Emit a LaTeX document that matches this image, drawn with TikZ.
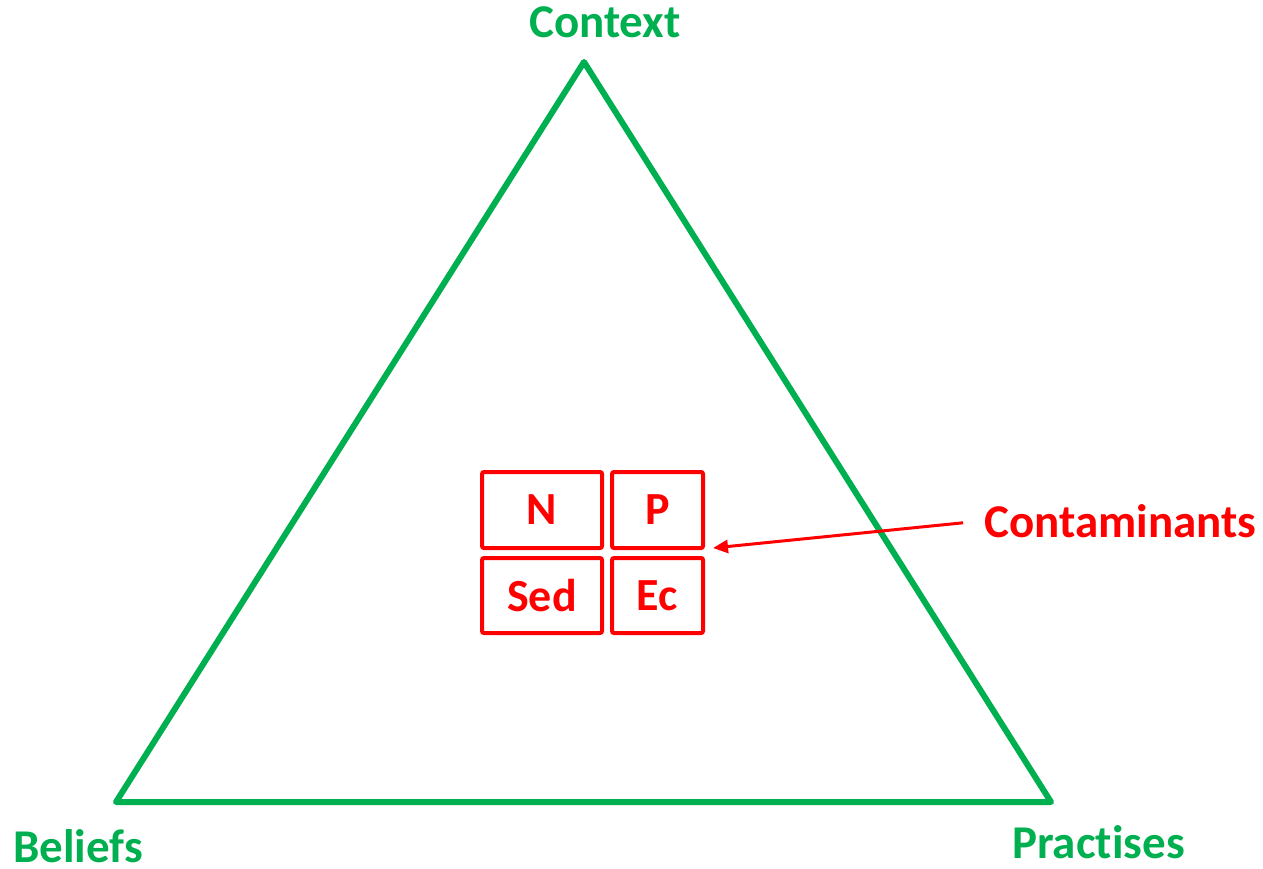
\documentclass[tikz,border=0pt]{standalone}
\usepackage{fontspec}
\setmainfont{Carlito}[Ligatures=NoCommon]
\usepackage{xcolor}
\usepackage{tikz}
\usetikzlibrary{arrows.meta}
\definecolor{trigreen}{HTML}{00B050}
\definecolor{conred}{HTML}{FF0000}

\begin{document}
\begin{tikzpicture}[x=1pt,y=-1pt,
	lbl/.style={inner sep=0pt,font=\fontsize{47}{50}\selectfont\bfseries},
	cbox/.style={draw=conred,line width=4pt,rounded corners=2pt,inner sep=0pt,text=conred,font=\fontsize{46}{50}\selectfont\bfseries}]
	\useasboundingbox (0,0) rectangle (1263,869);
	
	\coordinate (top) at (584,62);
	\coordinate (left) at (116,802);
	\coordinate (right) at (1051,802);
	\draw[trigreen,line width=6pt,line join=round] (top) -- (right) -- (left) -- cycle;
	
	\node[lbl,text=trigreen,anchor=base] (context) at (605,38) {Context};
	\node[lbl,text=trigreen,anchor=base west] (beliefs) at (13,862) {Beliefs};
	\node[lbl,text=trigreen,anchor=base west] (practises) at (1012,858) {Practises};
	
	\node[cbox,minimum width=120pt,minimum height=76pt] (N) at (542,510) {N};
	\node[cbox,minimum width=91pt,minimum height=76pt] (P) at (657.5,510) {P};
	\node[cbox,minimum width=120pt,minimum height=75pt] (Sed) at (542,595.5) {Sed};
	\node[cbox,minimum width=91pt,minimum height=75pt] (Ec) at (657.5,595.5) {Ec};
	
	\node[lbl,text=conred,anchor=base west] (cont) at (984,537) {Contaminants};
	\coordinate (tip) at (713,548);
	\draw[conred,line width=3pt,-{Triangle[length=15pt,width=13pt]},shorten <=21pt] (cont.west) -- (tip);
\end{tikzpicture}
\end{document}
